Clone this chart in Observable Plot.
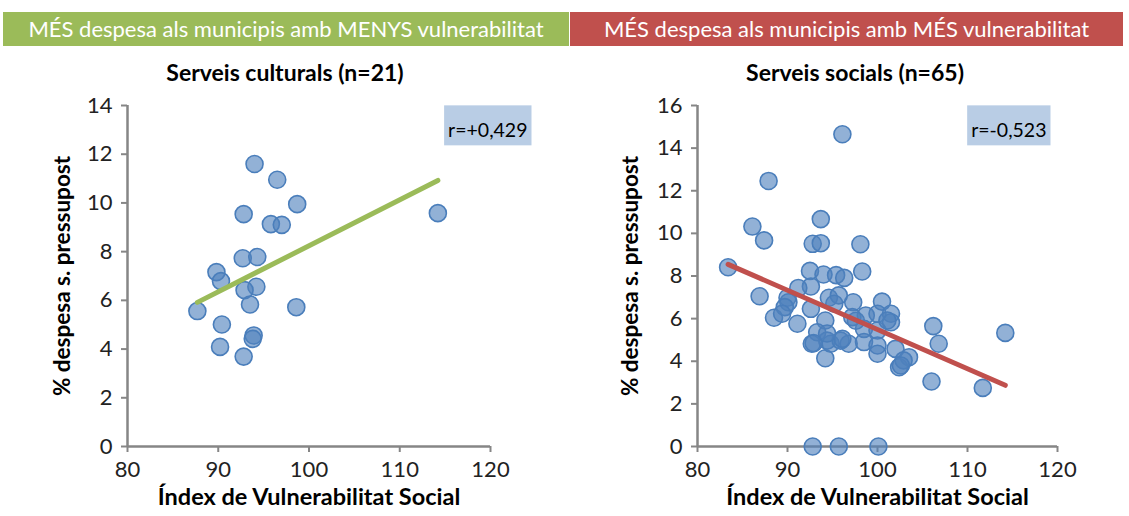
<!DOCTYPE html>
<html>
<head>
<meta charset="utf-8">
<script src="https://cdn.jsdelivr.net/npm/d3@7"></script>
<script src="https://cdn.jsdelivr.net/npm/@observablehq/plot@0.6"></script>
<style>
  html, body { margin: 0; padding: 0; background: #fff; }
  body { width: 1129px; height: 516px; position: relative; overflow: hidden; font-family: Lato, "Open Sans", sans-serif; }
  .band { position: absolute; top: 12px; height: 34px; color: #fff; font-size: 22px; line-height: 34px; text-align: center; }
  .title { position: absolute; top: 57px; font-weight: bold; font-size: 23px; line-height: 30px; color: #000; text-align: center; white-space: nowrap; }
  .chart { position: absolute; top: 90px; }
</style>
</head>
<body>
<div class="band" style="left:3px;width:566px;background:#9bbb59;">MÉS despesa als municipis amb MENYS vulnerabilitat</div>
<div class="band" style="left:570px;width:553px;background:#c0504d;">MÉS despesa als municipis amb MÉS vulnerabilitat</div>
<div class="title" style="left:127px;width:316px;">Serveis culturals (n=21)</div>
<div class="title" style="left:697px;width:316px;">Serveis socials (n=65)</div>
<div id="left" class="chart" style="left:0px;"></div>
<div id="right" class="chart" style="left:565px;"></div>
<script>
// ---- data ----
const culturalIndex = [94.0, 96.5, 98.7, 92.8, 95.8, 97.0, 114.2, 92.7, 94.3, 89.8, 90.3, 94.2, 92.9, 93.5, 87.7, 98.6, 90.4, 93.9, 93.8, 90.2, 92.8];
const culturalSpend = [11.6, 10.95, 9.95, 9.54, 9.13, 9.10, 9.58, 7.73, 7.78, 7.16, 6.79, 6.56, 6.42, 5.83, 5.56, 5.72, 5.01, 4.56, 4.42, 4.09, 3.69];

const socialIndex = [96.1, 87.9, 86.1, 87.4, 93.7, 92.8, 93.7, 98.1, 83.4, 98.3,
                     92.5, 94.0, 95.4, 96.3, 86.9, 88.5, 91.1, 106.2, 114.2, 106.8,
                     106.0, 111.7, 94.2, 92.8, 95.7, 100.1, 100.5, 97.3, 92.6, 91.2,
                     90.0, 90.1, 94.6, 95.7, 95.2, 89.7, 92.6, 89.4, 94.2, 93.3,
                     94.4, 92.7, 94.8, 95.9, 96.8, 97.2, 98.7, 100.0, 101.5, 101.5,
                     98.5, 100.0, 101.1, 98.5, 100.0, 102.0, 100.0, 102.4, 103.5, 102.9,
                     96.1, 92.9, 97.6, 102.6, 94.4];
const socialSpend = [14.65, 12.46, 10.32, 9.67, 10.67, 9.51, 9.54, 9.49, 8.41, 8.21,
                     8.24, 8.07, 8.04, 7.91, 7.05, 6.04, 5.76, 5.65, 5.33, 4.82,
                     3.05, 2.75, 4.14, 0, 0, 0, 6.80, 6.77, 7.51, 7.44,
                     6.98, 6.77, 6.98, 7.09, 6.70, 6.54, 6.46, 6.23, 5.91, 5.36,
                     4.97, 4.82, 4.82, 4.97, 4.82, 6.07, 6.15, 6.23, 6.23, 5.83,
                     5.52, 5.44, 5.91, 4.90, 4.74, 4.58, 4.35, 3.72, 4.19, 4.04,
                     5.05, 4.85, 5.90, 3.80, 5.30];

const xTicks = [80, 90, 100, 110, 120];
const culturalYTicks = [0, 2, 4, 6, 8, 10, 12, 14];
const socialYTicks = [0, 2, 4, 6, 8, 10, 12, 14, 16];
const culturalR = "r=+0,429";
const socialR = "r=-0,523";
const yLabel = "% despesa s. pressupost";
const xLabel = "Índex de Vulnerabilitat Social";

function makeChart(xs, ys, yTicks, lineColor, rText, opts) {
  const data = xs.map((x, i) => ({x, y: ys[i]}));
  const xMin = xTicks[0], yMin = yTicks[0];
  return Plot.plot({
    width: opts.width,
    height: 426,
    marginLeft: opts.marginLeft,
    marginRight: opts.marginRight,
    marginTop: 15,
    marginBottom: 70,
    style: {fontFamily: "Lato, 'Open Sans', sans-serif", fontSize: "22px", color: "#222", background: "transparent", overflow: "visible"},
    x: {domain: [xTicks[0], xTicks[xTicks.length - 1]], ticks: xTicks, label: null},
    y: {domain: [yTicks[0], yTicks[yTicks.length - 1]], ticks: yTicks, label: null},
    marks: [
      Plot.axisX({ticks: xTicks, tickSize: 6, tickPadding: 9, stroke: "#868686", strokeWidth: 2, label: null, fill: "#222", fontSize: 22}),
      Plot.axisY({ticks: yTicks, tickSize: 6, tickPadding: 9, stroke: "#868686", strokeWidth: 2, label: null, fill: "#222", fontSize: 22}),
      Plot.ruleX([xMin], {stroke: "#868686", strokeWidth: 2.5}),
      Plot.ruleY([yMin], {stroke: "#868686", strokeWidth: 2.5}),
      Plot.dot(data, {x: "x", y: "y", r: 8.5, fill: "#4f81bd", fillOpacity: 0.62, stroke: "#4a7ebb", strokeWidth: 1.6}),
      Plot.linearRegressionY(data, {x: "x", y: "y", stroke: lineColor, strokeWidth: 5, ci: 0}),
      Plot.text([xLabel], {frameAnchor: "bottom", dy: 58, fontWeight: "bold", fontSize: 23.5, fill: "#000"}),
      Plot.text([yLabel], {frameAnchor: "left", textAnchor: "middle", dx: opts.yLabelDx, rotate: -90, fontWeight: "bold", fontSize: 22.5, fill: "#000"}),
      Plot.text([rText], {frameAnchor: "top-right", dx: opts.rDx, dy: 18, fontSize: 19.5, fill: "#000"})
    ]
  });
}

const left = makeChart(culturalIndex, culturalSpend, culturalYTicks, "#9bbb59", culturalR,
  {width: 565, marginLeft: 127, marginRight: 75, yLabelDx: -65, rDx: 37});
const right = makeChart(socialIndex, socialSpend, socialYTicks, "#c0504d", socialR,
  {width: 564, marginLeft: 132, marginRight: 72, yLabelDx: -67, rDx: -11});

document.getElementById("left").appendChild(left);
document.getElementById("right").appendChild(right);

// light-blue box behind each r label, sized from the rendered text
for (const svg of [left, right]) {
  svg.querySelectorAll("text").forEach(t => {
    if (t.textContent.startsWith("r=")) {
      const bb = t.getBBox();
      const rect = document.createElementNS("http://www.w3.org/2000/svg", "rect");
      const padX = 4;
      rect.setAttribute("x", bb.x - padX);
      rect.setAttribute("y", bb.y - 13);
      rect.setAttribute("width", bb.width + padX * 2);
      rect.setAttribute("height", bb.height + 17);
      rect.setAttribute("fill", "#b9cde5");
      const tr = t.getAttribute("transform");
      if (tr) rect.setAttribute("transform", tr);
      t.parentNode.insertBefore(rect, t);
    }
  });
}
</script>
</body>
</html>
